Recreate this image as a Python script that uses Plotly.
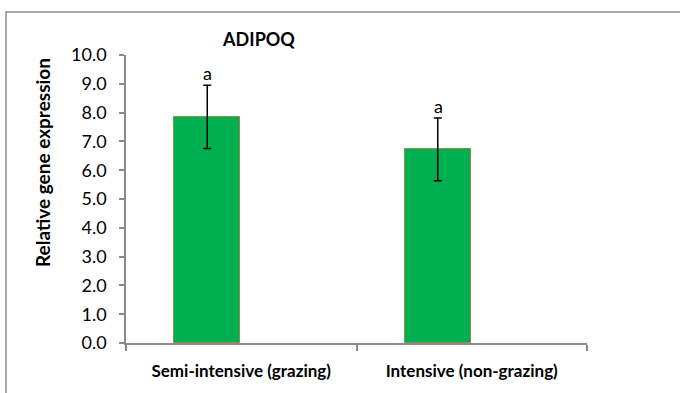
import plotly.graph_objects as go

# Relative ADIPOQ expression by production system
categories = ["Semi-intensive (grazing)", "Intensive (non-grazing)"]
means = [7.85, 6.72]
errors = [1.10, 1.09]
letters = ["a", "a"]
y_ticks = [0, 1, 2, 3, 4, 5, 6, 7, 8, 9, 10]

FONT = "Lato"
AXIS_GREY = "#8a8a8a"

fig = go.Figure()
fig.add_trace(go.Bar(
    x=categories,
    y=means,
    width=0.285,
    offset=-0.29,
    marker=dict(color="#00b050", line=dict(color="#8c8c4f", width=1)),
    error_y=dict(type="data", array=errors, visible=True,
                 color="black", thickness=1.5, width=4),
    showlegend=False,
))

# significance letters above each error bar
for cat, m, e, lab in zip(categories, means, errors, letters):
    fig.add_annotation(
        x=cat, y=m + e, text=lab, showarrow=False,
        xshift=-0.145 * 232, yshift=12,
        font=dict(family=FONT, size=18, color="black"),
    )

# y-axis title, placed explicitly
fig.add_annotation(
    xref="paper", yref="paper",
    x=(42 - 126) / 461, y=(343 - 163) / 288,
    text="<b>Relative gene expression</b>", textangle=-90,
    showarrow=False, xanchor="center", yanchor="middle",
    font=dict(family=FONT, size=19, color="black"),
)

# outer chart frame (top and left edges visible)
pw, ph = 461, 288
fig.add_shape(type="rect", xref="paper", yref="paper",
              x0=(6 - 126) / pw, x1=(700 - 126) / pw,
              y0=(343 - 420) / ph, y1=(343 - 12) / ph,
              line=dict(color="#8c8c8c", width=1.5), layer="below")

fig.update_layout(
    width=680, height=393,
    margin=dict(l=126, r=93, t=55, b=50),
    paper_bgcolor="white", plot_bgcolor="white",
    title=dict(text="<b>ADIPOQ</b>", x=259 / 680, xanchor="center",
               y=1 - 40 / 393, yanchor="middle",
               font=dict(family=FONT, size=18, color="black")),
    font=dict(family=FONT, color="black"),
    bargap=0,
)
fig.update_xaxes(
    range=[-0.5, 1.5], tickson="boundaries",
    showline=True, linecolor=AXIS_GREY, linewidth=1.5,
    ticks="outside", ticklen=6, tickcolor=AXIS_GREY, tickwidth=1.5,
    ticklabelstandoff=12,
    tickfont=dict(family=FONT, size=17, color="black", weight="bold"),
    showgrid=False, zeroline=False, fixedrange=True,
)
fig.update_yaxes(
    range=[0, 10], tickvals=y_ticks,
    ticktext=[f"{v:.1f}" for v in y_ticks],
    showline=True, linecolor=AXIS_GREY, linewidth=1.5,
    ticks="outside", ticklen=5, tickcolor=AXIS_GREY, tickwidth=1.5,
    ticklabelstandoff=9,
    tickfont=dict(family=FONT, size=18, color="black"),
    showgrid=False, zeroline=False, fixedrange=True,
)

fig.write_html("out.html")
